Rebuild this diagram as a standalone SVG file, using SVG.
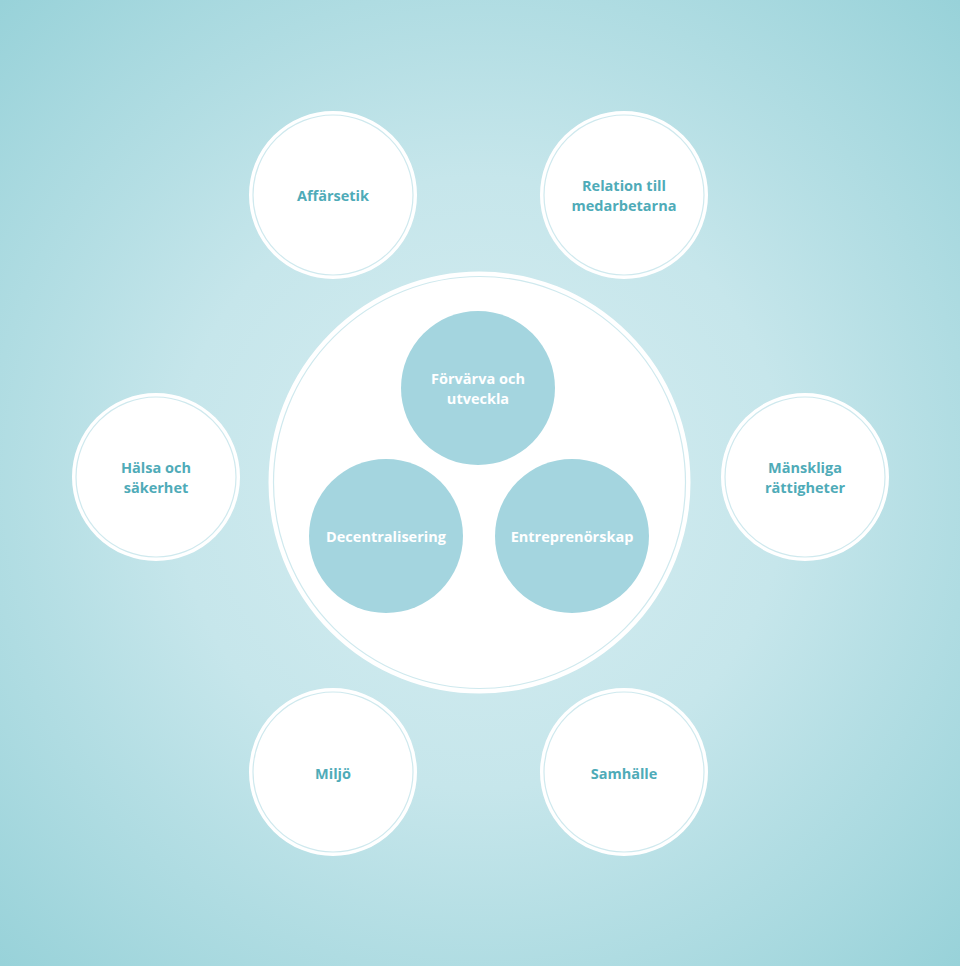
<svg xmlns="http://www.w3.org/2000/svg" width="960" height="966" viewBox="0 0 960 966">
<defs>
<radialGradient id="bg" cx="480" cy="483" r="680" gradientUnits="userSpaceOnUse">
<stop offset="0" stop-color="#d6edf1"/>
<stop offset="0.45" stop-color="#c6e6eb"/>
<stop offset="1" stop-color="#98d2d9"/>
</radialGradient>
<style>
.outer{fill:#ffffff;stroke:#ffffff;stroke-width:2}
.ring{fill:none;stroke:#cfe9ee;stroke-width:1.2}
.inner{fill:#a4d5df}
.t{font-family:"Open Sans","Liberation Sans",sans-serif;font-weight:700;font-size:14.5px;text-anchor:middle;fill:#4fabb8}
.tw{font-family:"Open Sans","Liberation Sans",sans-serif;font-weight:700;font-size:14.5px;text-anchor:middle;fill:#ffffff}
</style>
</defs>
<rect width="960" height="966" fill="url(#bg)"/>
<g id="center">
<circle class="outer" cx="479.5" cy="482.5" r="210"/>
<circle class="ring" cx="479.5" cy="482.5" r="206"/>
</g>
<g id="forvarva">
<circle class="inner" cx="478" cy="388" r="77"/>
<text class="tw" x="478" y="384">Förvärva och</text>
<text class="tw" x="478" y="404">utveckla</text>
</g>
<g id="decentralisering">
<circle class="inner" cx="386" cy="536" r="77"/>
<text class="tw" x="386" y="542">Decentralisering</text>
</g>
<g id="entreprenorskap">
<circle class="inner" cx="572" cy="536" r="77"/>
<text class="tw" x="572" y="542">Entreprenörskap</text>
</g>
<g id="affarsetik">
<circle class="outer" cx="333" cy="195" r="83"/>
<circle class="ring" cx="333" cy="195" r="80"/>
<text class="t" x="333" y="201">Affärsetik</text>
</g>
<g id="relation">
<circle class="outer" cx="624" cy="195" r="83"/>
<circle class="ring" cx="624" cy="195" r="80"/>
<text class="t" x="624" y="191">Relation till</text>
<text class="t" x="624" y="211">medarbetarna</text>
</g>
<g id="halsa">
<circle class="outer" cx="156" cy="477" r="83"/>
<circle class="ring" cx="156" cy="477" r="80"/>
<text class="t" x="156" y="473">Hälsa och</text>
<text class="t" x="156" y="493">säkerhet</text>
</g>
<g id="manskliga">
<circle class="outer" cx="805" cy="477" r="83"/>
<circle class="ring" cx="805" cy="477" r="80"/>
<text class="t" x="805" y="473">Mänskliga</text>
<text class="t" x="805" y="493">rättigheter</text>
</g>
<g id="miljo">
<circle class="outer" cx="333" cy="772" r="83"/>
<circle class="ring" cx="333" cy="772" r="80"/>
<text class="t" x="333" y="779">Miljö</text>
</g>
<g id="samhalle">
<circle class="outer" cx="624" cy="772" r="83"/>
<circle class="ring" cx="624" cy="772" r="80"/>
<text class="t" x="624" y="779">Samhälle</text>
</g>
<g id="connectors"/>
</svg>
